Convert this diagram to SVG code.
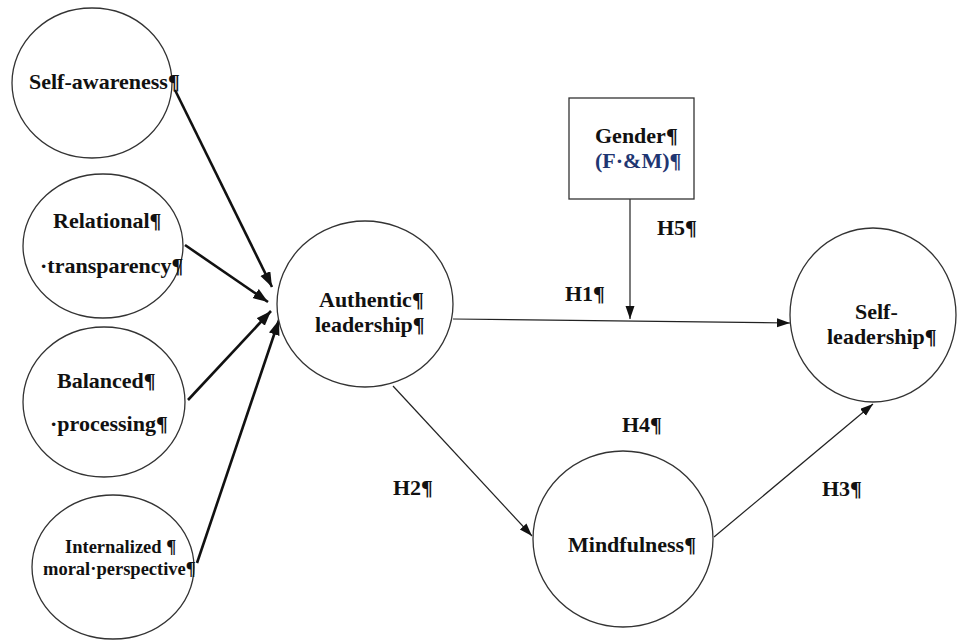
<svg xmlns="http://www.w3.org/2000/svg" width="957" height="640" viewBox="0 0 957 640">
<style>
.node{fill:#fff;stroke:#333;stroke-width:1.3}
.t{font-family:"Liberation Serif","Times New Roman",serif;font-weight:bold;font-size:22px;fill:#111}
.s{font-size:18.5px}
.blue{fill:#1f3672}
.thick{stroke:#111;stroke-width:2.6;fill:none}
.thin{stroke:#222;stroke-width:1.2;fill:none}
</style>
<defs>
<marker id="ah" markerUnits="userSpaceOnUse" markerWidth="16" markerHeight="12" refX="15" refY="5.5" orient="auto"><path d="M0,0 L15,5.5 L0,11 z" fill="#111"/></marker>
<marker id="ahs" markerUnits="userSpaceOnUse" markerWidth="14" markerHeight="10" refX="13" refY="4.5" orient="auto"><path d="M0,0 L13,4.5 L0,9 z" fill="#111"/></marker>
</defs>
<rect width="957" height="640" fill="#fff"/>
<g id="connectors">
<line class="thick" x1="175" y1="90" x2="272" y2="287" marker-end="url(#ah)"/>
<line class="thick" x1="185" y1="245" x2="268" y2="302" marker-end="url(#ah)"/>
<line class="thick" x1="188" y1="400" x2="271" y2="311" marker-end="url(#ah)"/>
<line class="thick" x1="197" y1="563" x2="279" y2="320" marker-end="url(#ah)"/>
<line class="thin" x1="453" y1="319" x2="790" y2="323" marker-end="url(#ahs)"/>
<line class="thin" x1="630" y1="199" x2="630" y2="319" marker-end="url(#ahs)"/>
<line class="thin" x1="393" y1="386" x2="532" y2="536" marker-end="url(#ahs)"/>
<line class="thin" x1="714" y1="537" x2="873" y2="404" marker-end="url(#ahs)"/>
</g>
<g id="self-awareness">
<ellipse class="node" cx="92" cy="83" rx="80" ry="75"/>
<text class="t" x="29" y="89">Self-awareness¶</text>
</g>
<g id="relational-transparency">
<ellipse class="node" cx="103" cy="246" rx="80" ry="72"/>
<text class="t" x="53" y="228">Relational¶</text>
<text class="t" x="40" y="273">·transparency¶</text>
</g>
<g id="balanced-processing">
<ellipse class="node" cx="104" cy="402" rx="81" ry="75"/>
<text class="t" x="57" y="388">Balanced¶</text>
<text class="t" x="50" y="431">·processing¶</text>
</g>
<g id="internalized-moral-perspective">
<ellipse class="node" cx="113" cy="567" rx="81" ry="72"/>
<text class="t s" x="65" y="553">Internalized ¶</text>
<text class="t s" x="43" y="575">moral·perspective¶</text>
</g>
<g id="authentic-leadership">
<ellipse class="node" cx="365" cy="304" rx="88" ry="83"/>
<text class="t" x="319" y="307">Authentic¶</text>
<text class="t" x="315" y="332">leadership¶</text>
</g>
<g id="gender">
<rect class="node" x="569" y="98" width="125" height="101"/>
<text class="t" x="595" y="143">Gender¶</text>
<text class="t blue" x="595" y="168">(F·&amp;M)¶</text>
</g>
<g id="self-leadership">
<ellipse class="node" cx="873" cy="315" rx="83" ry="87"/>
<text class="t" x="855" y="319">Self-</text>
<text class="t" x="827" y="344">leadership¶</text>
</g>
<g id="mindfulness">
<ellipse class="node" cx="623" cy="539" rx="90" ry="88"/>
<text class="t" x="568" y="552">Mindfulness¶</text>
</g>
<g id="labels">
<text class="t" x="565" y="301">H1¶</text>
<text class="t" x="657" y="235">H5¶</text>
<text class="t" x="393" y="495">H2¶</text>
<text class="t" x="622" y="432">H4¶</text>
<text class="t" x="822" y="496">H3¶</text>
</g>
</svg>
